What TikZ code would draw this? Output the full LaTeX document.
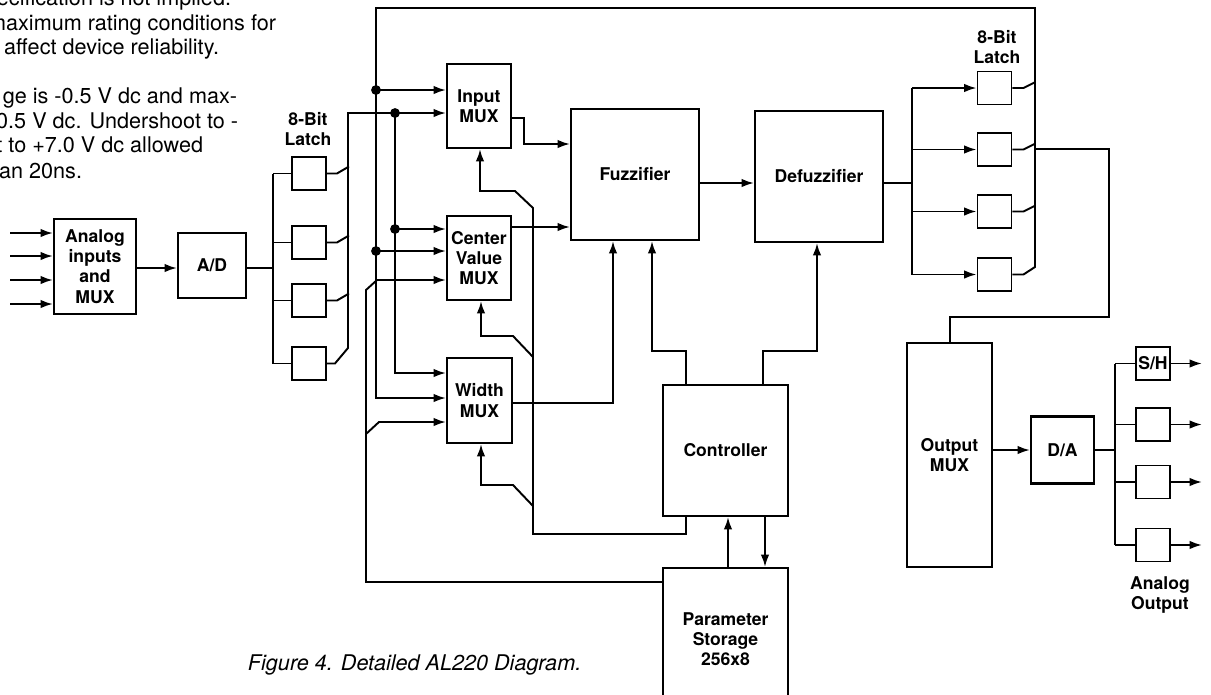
\documentclass[tikz,border=0pt]{standalone}
\usepackage{fontspec}
\setmainfont{TeX Gyre Heros}
\usetikzlibrary{arrows.meta,calc}

\begin{document}
\begin{tikzpicture}[x=0.02cm, y=-0.02cm, line width=1.1pt,
    >={Latex[length=7pt,width=4.8pt]},
    blk/.style={draw, line width=1.2pt, inner sep=0pt, align=center,
      font=\fontsize{10}{11.5}\selectfont\bfseries},
    latch/.style={draw, inner sep=0pt, minimum width=0.68cm, minimum height=0.66cm,
      font=\fontsize{10}{11.5}\selectfont\bfseries},
    lbl/.style={align=center, inner sep=0pt, font=\fontsize{10}{11.5}\selectfont\bfseries},
    note/.style={anchor=base east, inner sep=0pt, font=\fontsize{12.3}{14}\selectfont}]
    \useasboundingbox (0,0) rectangle (1211,694);
    \clip (0,0) rectangle (1211,694);

    % page text cut off at the left
    \node[note] (n1) at (232,5) {specification is not implied.};
    \node[note] (n2) at (277,30) {maximum rating conditions for};
    \node[note] (n3) at (220,54) {affect device reliability.};
    \node[note] (n4) at (238,103) {ge is -0.5 V dc and max-};
    \node[note] (n5) at (239,128) {0.5 V dc. Undershoot to -};
    \node[note] (n6) at (204,152) {t to +7.0 V dc allowed};
    \node[note] (n7) at (83,178) {an 20ns.};
    \node[font=\fontsize{12.3}{14}\selectfont\itshape, anchor=base west, inner sep=0pt]
        (cap) at (247,670) {Figure 4. Detailed AL220 Diagram.};

    % blocks
    \node[blk, minimum width=1.64cm, minimum height=1.9cm] (ana) at (95,266.5) {Analog\\inputs\\and\\MUX};
    \node[blk, minimum width=1.36cm, minimum height=1.3cm] (ad) at (212,265.5) {A/D};
    \foreach \y [count=\i] in {173.5,242.5,300.5,363.5}
        \node[latch] (l\i) at (309,\y) {};
    \node[lbl] (llab) at (308,129) {8-Bit\\Latch};
    \node[blk, minimum width=1.28cm, minimum height=1.68cm] (inmux) at (479,106) {Input\\MUX};
    \node[blk, minimum width=1.28cm, minimum height=1.68cm] (cvmux) at (479,258) {Center\\Value\\MUX};
    \node[blk, minimum width=1.3cm, minimum height=1.7cm] (wmux) at (479.5,400.5) {Width\\MUX};
    \node[blk, minimum width=2.56cm, minimum height=2.62cm] (fuzz) at (635,174.5) {Fuzzifier};
    \node[blk, minimum width=2.56cm, minimum height=2.62cm] (defuzz) at (819,176.5) {Defuzzifier};
    \node[blk, minimum width=2.5cm, minimum height=2.62cm] (ctrl) at (725.5,450.5) {Controller};
    \node[blk, minimum width=2.5cm, minimum height=2.84cm] (param) at (725.5,639) {Parameter\\Storage\\256x8};
    \foreach \y [count=\i] in {88,149.5,211.5,274.5}
        \node[latch] (r\i) at (994.5,\y) {};
    \node[lbl] (rlab) at (997,47) {8-Bit\\Latch};
    \node[blk, minimum width=1.7cm, minimum height=4.48cm] (omux) at (949.5,455) {Output\\MUX};
    \node[blk, minimum width=1.26cm, minimum height=1.34cm] (da) at (1062.5,450) {D/A};
    \node[latch] (o1) at (1153,363.5) {S/H};
    \foreach \y [count=\i from 2] in {424.5,482,545}
        \node[latch] (o\i) at (1153,\y) {};
    \node[lbl] (olab) at (1160,595) {Analog\\Output};

    % analog inputs, A/D and input latches
    \foreach \y [count=\i] in {233,256,280,304} {
        \coordinate (in\i) at (10,\y);
        \draw[->] (in\i) -- (ana.west |- in\i);
    }
    \draw[->] (ana.east |- 0,268) -- (ad.west |- 0,268);
    \draw (ad.east |- 0,268) -- (273,268);
    \draw (273,173.5) -- (273,363.5);
    \foreach \i in {1,...,4}
        \draw (273,0 |- l\i) -- (l\i.west);
    \foreach \i in {1,2,3}
        \draw (l\i.east) -- ++(10,0) -- ++(12,-7);
    \draw[->] (l4.east) -- ++(8,0) -- (348,348) -- (348,113) -- (inmux.west |- 0,113);

    % latch bus to the MUXes
    \coordinate (j3) at (395,113);
    \coordinate (j4) at (395,229);
    \draw[->] (j3) -- (395,373) -- (wmux.west |- 0,373);
    \draw[->] (j4) -- (cvmux.west |- j4);

    % output latches fed back over the top
    \coordinate (j1) at (376,90);
    \coordinate (j2) at (376,251);
    \foreach \i in {1,2,3}
        \draw (r\i.east) -- ++(11,0) -- ++(12,-6);
    \draw[->] (r4.east) -- ++(11,0) -- (1035,267) -- (1035,8) -- (376,8) -- (376,398) -- (wmux.west |- 0,398);
    \draw[->] (j1) -- (inmux.west |- j1);
    \draw[->] (j2) -- (cvmux.west |- j2);
    \foreach \p in {j1,j2,j3,j4}
        \fill (\p) circle (2.8pt);

    % parameter storage to the MUXes
    \draw[->] (param.west |- 0,582) -- (366,582) -- (366,290) -- (377,280) -- (cvmux.west |- 0,280);
    \draw[->] (366,434) -- (379,422) -- (wmux.west |- 0,422);

    % MUX outputs
    \draw[->] (inmux.east |- 0,118) -- (524,118) -- (524,144) -- (fuzz.west |- 0,144);
    \draw[->] (cvmux.east |- 0,227) -- (fuzz.west |- 0,227);
    \draw[->] (wmux.east |- 0,403) -- (613,403) -- (fuzz.south -| 613,0);
    \draw[->] (fuzz.east |- 0,183) -- (defuzz.west |- 0,183);

    % controller
    \draw[->] (ctrl.north -| 686,0) -- (686,351) -- (652,351) -- (fuzz.south -| 652,0);
    \draw[->] (ctrl.north -| 763,0) -- (763,351) -- (817,351) -- (defuzz.south -| 817,0);
    \draw[->] (param.north -| 728,0) -- (ctrl.south -| 728,0);
    \draw[->] (ctrl.south -| 765,0) -- (param.north -| 765,0);
    \draw[->] (ctrl.south -| 686,0) -- (686,534) -- (533,534) -- (533,208) -- (515,191) -- (480,191) -- (inmux.south -| 480,0);
    \draw[->] (533,357) -- (513,336) -- (481,336) -- (cvmux.south -| 481,0);
    \draw[->] (533,506) -- (513,485) -- (481,485) -- (wmux.south -| 481,0);

    % defuzzifier to output latches
    \draw (defuzz.east |- 0,183) -- (912,183);
    \draw (912,88) -- (912,274.5);
    \foreach \i in {1,...,4}
        \draw[->] (912,0 |- r\i) -- (r\i.west);

    % output MUX, D/A and sample and hold
    \draw (1035,149) -- (1109,149) -- (1109,317) -- (950,317) -- (omux.north -| 950,0);
    \draw[->] (omux.east |- da) -- (da.west);
    \draw (da.east) -- (1115,450);
    \draw (1115,363.5) -- (1115,545);
    \foreach \i in {1,...,4} {
        \draw (1115,0 |- o\i) -- (o\i.west);
        \draw[->] (o\i.east) -- (1202,0 |- o\i);
    }
\end{tikzpicture}
\end{document}
